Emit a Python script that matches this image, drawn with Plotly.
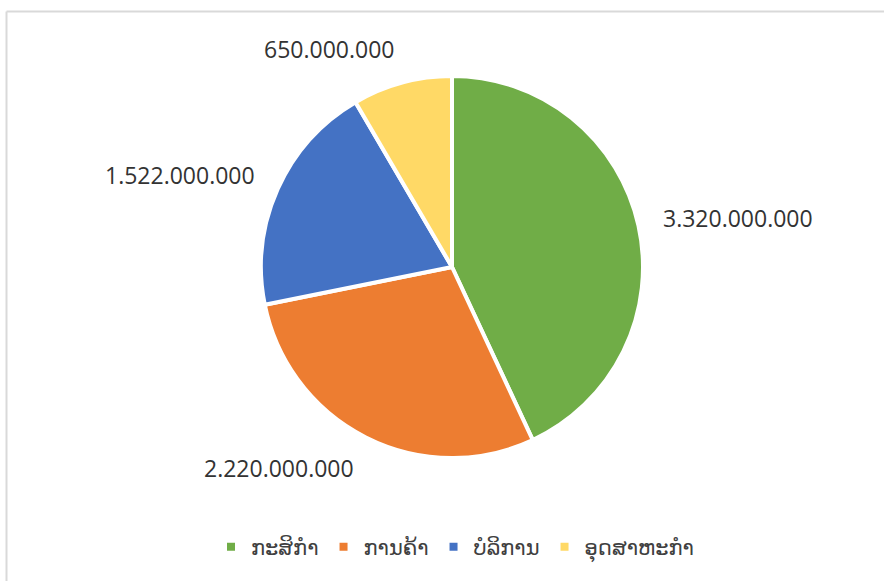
import math
import plotly.graph_objects as go

categories = ["ກະສິກຳ", "ການຄ້າ", "ບໍລິການ", "ອຸດສາຫະກຳ"]
values = [3320000000, 2220000000, 1522000000, 650000000]
label_texts = ["3.320.000.000", "2.220.000.000", "1.522.000.000", "650.000.000"]
colors = ["#70AD47", "#ED7D31", "#4472C4", "#FFD966"]

W, H = 884, 581
cx, cy, r = 452, 267, 191
label_fx, label_fy = 1.12, 1.18

fig = go.Figure(go.Pie(
    labels=categories,
    values=values,
    textinfo="none",
    marker=dict(colors=colors, line=dict(color="white", width=4)),
    sort=False,
    direction="clockwise",
    rotation=0,
    showlegend=True,
    hoverinfo="label+value",
    domain=dict(x=[(cx - r) / W, (cx + r) / W], y=[1 - (cy + r) / H, 1 - (cy - r) / H]),
))

# data labels placed outside each slice at its mid-angle (derived from the values)
total = sum(values)
annotations = []
cum = 0.0
for v, t in zip(values, label_texts):
    mid = (cum + v / 2) / total * 2 * math.pi
    cum += v
    dx = math.sin(mid) * r * label_fx
    dy = math.cos(mid) * r * label_fy
    annotations.append(dict(
        x=(cx + dx) / W, y=1 - (cy - dy) / H, xref="paper", yref="paper",
        text=t, showarrow=False,
        xanchor="left" if dx > 0 else "right", yanchor="middle",
        font=dict(family="Open Sans", size=23, color="#333333"),
    ))

fig.update_layout(
    width=W, height=H,
    margin=dict(l=0, r=0, t=0, b=0),
    paper_bgcolor="white",
    plot_bgcolor="white",
    annotations=annotations,
    legend=dict(orientation="h", x=0.5 + 13 / W, xanchor="center", y=1 - 547 / H, yanchor="middle",
                font=dict(family="DejaVu Sans", size=21, color="#404040")),
    shapes=[
        dict(type="line", xref="paper", yref="paper", x0=6.5 / W, x1=6.5 / W, y0=0, y1=1 - 11.5 / H,
             line=dict(color="#D9D9D9", width=2)),
        dict(type="line", xref="paper", yref="paper", x0=6.5 / W, x1=1, y0=1 - 11.5 / H, y1=1 - 11.5 / H,
             line=dict(color="#D9D9D9", width=2)),
    ],
)

fig.write_html("out.html", config={"displayModeBar": False},
               post_script="document.body.style.margin='0';")
